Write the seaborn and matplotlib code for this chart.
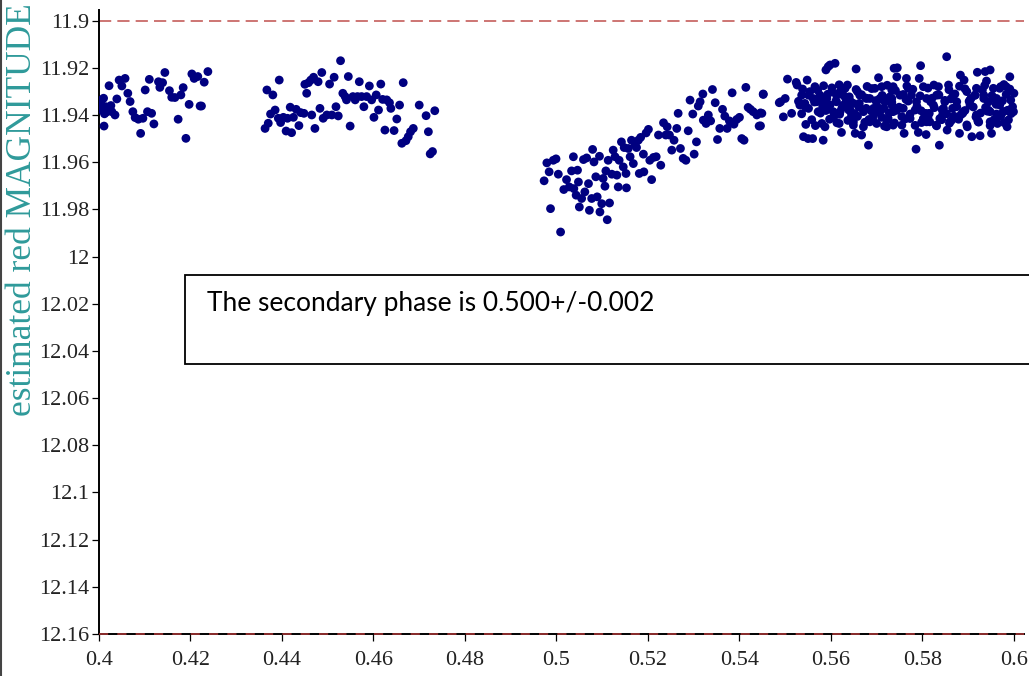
import matplotlib
matplotlib.use("Agg")
import matplotlib.pyplot as plt
import pandas as pd
import seaborn as sns
from matplotlib.patches import Rectangle
from matplotlib.lines import Line2D

# ---------------- data ----------------
pre_phase = [0.4000, 0.4002, 0.4006, 0.4010, 0.4011, 0.4015, 0.4018, 0.4022, 0.4028, 0.4035,
             0.4039, 0.4044, 0.4050, 0.4057, 0.4063, 0.4068, 0.4074, 0.4079, 0.4086, 0.4091,
             0.4096, 0.4101, 0.4106, 0.4110, 0.4115, 0.4120, 0.4130, 0.4133, 0.4139, 0.4144,
             0.4154, 0.4159, 0.4166, 0.4173, 0.4179, 0.4184, 0.4190, 0.4197, 0.4203, 0.4208,
             0.4216, 0.4221, 0.4224, 0.4230, 0.4238,
             0.4003, 0.4007, 0.4012, 0.4016, 0.4026]
pre_mag = [11.9358, 11.9372, 11.9336, 11.9329, 11.9447, 11.9365, 11.9379, 11.9276, 11.9386, 11.9400,
           11.9332, 11.9252, 11.9277, 11.9245, 11.9308, 11.9343, 11.9386, 11.9411, 11.9418, 11.9478,
           11.9414, 11.9294, 11.9386, 11.9249, 11.9393, 11.9438, 11.9259, 11.9283, 11.9263, 11.9220,
           11.9297, 11.9325, 11.9326, 11.9418, 11.9315, 11.9284, 11.9499, 11.9355, 11.9226, 11.9245,
           11.9237, 11.9362, 11.9362, 11.9261, 11.9216,
           11.9343, 11.9380, 11.9395, 11.9388, 11.9360]

mid_phase = [0.4363, 0.4367, 0.4370, 0.4375, 0.4380, 0.4385, 0.4394, 0.4392, 0.4397, 0.4403,
             0.4409, 0.4412, 0.4418, 0.4421, 0.4425, 0.4431, 0.4437, 0.4441, 0.4448, 0.4450,
             0.4454, 0.4458, 0.4463, 0.4465, 0.4469, 0.4472, 0.4479, 0.4483, 0.4487, 0.4490,
             0.4498, 0.4504, 0.4509, 0.4514, 0.4518, 0.4523, 0.4528, 0.4533, 0.4538, 0.4541,
             0.4545, 0.4549, 0.4555, 0.4560, 0.4565, 0.4569, 0.4574, 0.4579, 0.4585, 0.4591,
             0.4596, 0.4601, 0.4606, 0.4611, 0.4616, 0.4620, 0.4625, 0.4629, 0.4635, 0.4638,
             0.4645, 0.4651, 0.4657, 0.4662, 0.4665, 0.4671, 0.4676, 0.4681, 0.4687, 0.4700,
             0.4715, 0.4720, 0.4724, 0.4729, 0.4734]
mid_mag = [11.9457, 11.9294, 11.9435, 11.9396, 11.9315, 11.9379, 11.9252, 11.9414, 11.9432, 11.9410,
           11.9468, 11.9414, 11.9367, 11.9475, 11.9410, 11.9376, 11.9445, 11.9390, 11.9393, 11.9270,
           11.9308, 11.9263, 11.9252, 11.9400, 11.9240, 11.9457, 11.9259, 11.9372, 11.9220, 11.9414,
           11.9400, 11.9269, 11.9400, 11.9240, 11.9365, 11.9404, 11.9170, 11.9308, 11.9322, 11.9336,
           11.9237, 11.9447, 11.9322, 11.9336, 11.9322, 11.9259, 11.9322, 11.9365, 11.9322, 11.9277,
           11.9336, 11.9410, 11.9315, 11.9379, 11.9269, 11.9334, 11.9464, 11.9336, 11.9348, 11.9372,
           11.9466, 11.9417, 11.9358, 11.9520, 11.9263, 11.9509, 11.9492, 11.9471, 11.9457, 11.9358,
           11.9403, 11.9471, 11.9565, 11.9555, 11.9382]

ecl_phase = [0.4973, 0.4979, 0.4984, 0.4987, 0.4993, 0.4999, 0.5004, 0.5009, 0.5016, 0.5022,
             0.5028, 0.5033, 0.5037, 0.5038, 0.5043, 0.5046, 0.5048, 0.5050, 0.5055, 0.5059,
             0.5062, 0.5066, 0.5070, 0.5072, 0.5077, 0.5079, 0.5082, 0.5086, 0.5089, 0.5094,
             0.5095, 0.5099, 0.5102, 0.5106, 0.5108, 0.5111, 0.5113, 0.5116, 0.5121, 0.5124,
             0.5128, 0.5132, 0.5135, 0.5137, 0.5142, 0.5146, 0.5148, 0.5152, 0.5153, 0.5157,
             0.5161, 0.5164, 0.5168, 0.5172, 0.5175, 0.5179, 0.5181, 0.5184, 0.5190, 0.5191,
             0.5196, 0.5201, 0.5204, 0.5208, 0.5212, 0.5218, 0.5223, 0.5228, 0.5234, 0.5239,
             0.5242, 0.5247, 0.5252, 0.5257, 0.5263, 0.5266, 0.5271, 0.5277, 0.5283, 0.5288,
             0.5292, 0.5298, 0.5301, 0.5306, 0.5310, 0.5314, 0.5320, 0.5321, 0.5327, 0.5332,
             0.5337, 0.5341, 0.5347, 0.5352, 0.5357, 0.5363, 0.5368, 0.5373, 0.5378, 0.5384,
             0.5388, 0.5394, 0.5400, 0.5405, 0.5410, 0.5414, 0.5419, 0.5424, 0.5430, 0.5438,
             0.5443, 0.5446, 0.5452, 0.5487]
ecl_mag = [11.9679, 11.9603, 11.9641, 11.9797, 11.9592, 11.9586, 11.9651, 11.9896, 11.9716, 11.9674,
           11.9705, 11.9637, 11.9577, 11.9712, 11.9740, 11.9634, 11.9684, 11.9790, 11.9754, 11.9589,
           11.9726, 11.9582, 11.9691, 11.9804, 11.9754, 11.9546, 11.9599, 11.9662, 11.9747, 11.9575,
           11.9811, 11.9776, 11.9669, 11.9702, 11.9637, 11.9844, 11.9592, 11.9773, 11.9651, 11.9549,
           11.9577, 11.9655, 11.9705, 11.9592, 11.9514, 11.9620, 11.9538, 11.9648, 11.9709, 11.9542,
           11.9577, 11.9507, 11.9606, 11.9528, 11.9538, 11.9507, 11.9648, 11.9495, 11.9566, 11.9641,
           11.9476, 11.9461, 11.9592, 11.9674, 11.9580, 11.9577, 11.9485, 11.9613, 11.9433, 11.9485,
           11.9450, 11.9485, 11.9549, 11.9507, 11.9457, 11.9393, 11.9542, 11.9584, 11.9592, 11.9467,
           11.9337, 11.9396, 11.9566, 11.9514, 11.9362, 11.9344, 11.9311, 11.9422, 11.9436, 11.9400,
           11.9425, 11.9292, 11.9348, 11.9504, 11.9457, 11.9376, 11.9405, 11.9457, 11.9425, 11.9306,
           11.9439, 11.9419, 11.9410, 11.9500, 11.9507, 11.9283, 11.9368, 11.9376, 11.9386, 11.9400,
           11.9447, 11.9391, 11.9311, 11.9348]

post_phase = [0.5452, 0.5449, 0.5446, 0.5496, 0.5490, 0.5500, 0.5505, 0.5514, 0.5524, 0.5526,
              0.5536, 0.5540, 0.5545, 0.5548, 0.5550, 0.5554, 0.5560, 0.5565, 0.5569, 0.5572,
              0.5576, 0.5580, 0.5583, 0.5587, 0.5589, 0.5594, 0.5598, 0.5609, 0.5605, 0.5612,
              0.5618, 0.5623, 0.5627, 0.5631, 0.5636, 0.5640, 0.5645, 0.5649, 0.5653, 0.5655,
              0.5658, 0.5662, 0.5667, 0.5671, 0.5677, 0.5682, 0.5685, 0.5691, 0.5696, 0.5700,
              0.5704, 0.5707, 0.5711, 0.5716, 0.5722, 0.5729, 0.5733, 0.5736, 0.5738,
              0.5591, 0.5602, 0.5620, 0.5634, 0.5598, 0.5612, 0.5649, 0.5663, 0.5678, 0.5693,
              0.5707, 0.5718, 0.5733, 0.5583, 0.5561, 0.5551, 0.5620, 0.5642, 0.5671, 0.5685,
              0.5700, 0.5725, 0.5543, 0.5532,
              0.5853, 0.5796, 0.5745, 0.5744, 0.5736, 0.5733, 0.5740, 0.5736, 0.5755, 0.5760,
              0.5765, 0.5769, 0.5776, 0.5784, 0.5786, 0.5791, 0.5793, 0.5802, 0.5808, 0.5809,
              0.5815, 0.5824, 0.5830, 0.5835, 0.5837, 0.5844, 0.5849, 0.5854, 0.5857, 0.5864,
              0.5867, 0.5875, 0.5881, 0.5883, 0.5888, 0.5891, 0.5898, 0.5904, 0.5908, 0.5915,
              0.5920, 0.5922, 0.5926, 0.5934, 0.5937, 0.5940, 0.5944, 0.5948, 0.5951, 0.5955,
              0.5961, 0.5964, 0.5971, 0.5977, 0.5983, 0.5985, 0.5991, 0.5993, 0.5999, 0.6000,
              0.5751, 0.5758, 0.5773, 0.5787, 0.5802, 0.5816, 0.5831, 0.5846, 0.5860, 0.5875,
              0.5889, 0.5904, 0.5918, 0.5934, 0.5948, 0.5962, 0.5977, 0.5838, 0.5809, 0.5918,
              0.5897, 0.5948, 0.5969,
              0.5538, 0.5571, 0.5602, 0.5655, 0.5689, 0.5741, 0.5779, 0.5812, 0.5858, 0.5893,
              0.5931, 0.5969, 0.5991, 0.5551, 0.5593, 0.5628, 0.5667, 0.5712, 0.5758, 0.5795,
              0.5836, 0.5871, 0.5915, 0.5952, 0.5983, 0.5529, 0.5564, 0.5611, 0.5643, 0.5698,
              0.5733, 0.5769, 0.5818, 0.5849, 0.5902, 0.5944, 0.5975, 0.5545, 0.5582, 0.5624,
              0.5661, 0.5705, 0.5749, 0.5788, 0.5826, 0.5866, 0.5911, 0.5938, 0.5997, 0.5536,
              0.5577, 0.5619, 0.5652, 0.5694, 0.5727, 0.5773, 0.5807, 0.5853, 0.5884, 0.5927,
              0.5962, 0.5994, 0.5558, 0.5597, 0.5637, 0.5683, 0.5722, 0.5762, 0.5801, 0.5842,
              0.5879, 0.5921, 0.5957, 0.5988, 0.5566, 0.5649, 0.5717, 0.5784, 0.5831, 0.5897,
              0.5948,
              0.5584, 0.5618, 0.5679, 0.5723, 0.5766, 0.5825, 0.5881, 0.5936, 0.5978,
              0.5574, 0.5633, 0.5676, 0.5719, 0.5764, 0.5821, 0.5862, 0.5906, 0.5959,
              0.5589, 0.5639, 0.5688, 0.5744, 0.5797, 0.5843, 0.5893, 0.5942, 0.5986,
              0.5606, 0.5658, 0.5711, 0.5755, 0.5812, 0.5869, 0.5917, 0.5971,
              0.5613, 0.5674, 0.5739, 0.5798, 0.5859, 0.5923, 0.5979]
post_mag = [11.9313, 11.9393, 11.9446, 11.9408, 11.9344, 11.9330, 11.9248, 11.9393, 11.9262, 11.9273,
            11.9316, 11.9492, 11.9440, 11.9252, 11.9500, 11.9301, 11.9500, 11.9280, 11.9344, 11.9386,
            11.9316, 11.9436, 11.9507, 11.9450, 11.9209, 11.9195, 11.9188, 11.9181, 11.9386, 11.9344,
            11.9436, 11.9474, 11.9358, 11.9287, 11.9273, 11.9323, 11.9400, 11.9429, 11.9478, 11.9205,
            11.9301, 11.9351, 11.9485, 11.9450, 11.9372, 11.9528, 11.9330, 11.9415, 11.9287, 11.9436,
            11.9242, 11.9330, 11.9280, 11.9372, 11.9450, 11.9323, 11.9294, 11.9386, 11.9202,
            11.9330, 11.9301, 11.9301, 11.9351, 11.9358, 11.9316, 11.9351, 11.9316, 11.9330, 11.9372,
            11.9386, 11.9344, 11.9358, 11.9344, 11.9330, 11.9372, 11.9386, 11.9379, 11.9386, 11.9429,
            11.9344, 11.9415, 11.9351, 11.9358,
            11.9153, 11.9191, 11.9200, 11.9238, 11.9280, 11.9330, 11.9379, 11.9443, 11.9443, 11.9478,
            11.9245, 11.9287, 11.9316, 11.9379, 11.9545, 11.9474, 11.9245, 11.9280, 11.9483, 11.9330,
            11.9393, 11.9358, 11.9443, 11.9280, 11.9528, 11.9400, 11.9344, 11.9464, 11.9273, 11.9422,
            11.9316, 11.9365, 11.9478, 11.9231, 11.9393, 11.9252, 11.9450, 11.9337, 11.9492, 11.9316,
            11.9219, 11.9429, 11.9488, 11.9316, 11.9216, 11.9256, 11.9379, 11.9209, 11.9478, 11.9287,
            11.9355, 11.9436, 11.9280, 11.9386, 11.9280, 11.9450, 11.9238, 11.9337, 11.9386, 11.9308,
            11.9316, 11.9372, 11.9415, 11.9344, 11.9415, 11.9429, 11.9316, 11.9372, 11.9429, 11.9344,
            11.9386, 11.9358, 11.9400, 11.9330, 11.9386, 11.9330, 11.9386, 11.9415, 11.9429, 11.9287,
            11.9301, 11.9429, 11.9358,
            11.9290, 11.9295, 11.9285, 11.9292, 11.9288, 11.9296, 11.9291, 11.9286, 11.9293, 11.9289,
            11.9294, 11.9287, 11.9290, 11.9316, 11.9312, 11.9318, 11.9314, 11.9317, 11.9313, 11.9319,
            11.9315, 11.9311, 11.9316, 11.9318, 11.9313, 11.9342, 11.9345, 11.9340, 11.9343, 11.9339,
            11.9346, 11.9341, 11.9344, 11.9338, 11.9342, 11.9345, 11.9340, 11.9368, 11.9365, 11.9370,
            11.9366, 11.9371, 11.9367, 11.9364, 11.9369, 11.9372, 11.9366, 11.9368, 11.9365, 11.9395,
            11.9392, 11.9397, 11.9394, 11.9398, 11.9391, 11.9396, 11.9393, 11.9395, 11.9399, 11.9392,
            11.9396, 11.9394, 11.9420, 11.9418, 11.9423, 11.9419, 11.9421, 11.9417, 11.9422, 11.9420,
            11.9418, 11.9424, 11.9419, 11.9421, 11.9445, 11.9443, 11.9447, 11.9444, 11.9446, 11.9442,
            11.9445,
            11.9276, 11.9272, 11.9279, 11.9274, 11.9277, 11.9273, 11.9278, 11.9275, 11.9271,
            11.9330, 11.9333, 11.9328, 11.9331, 11.9334, 11.9329, 11.9332, 11.9330, 11.9333,
            11.9381, 11.9379, 11.9383, 11.9380, 11.9382, 11.9378, 11.9381, 11.9384, 11.9380,
            11.9408, 11.9406, 11.9410, 11.9407, 11.9409, 11.9405, 11.9408, 11.9406,
            11.9433, 11.9431, 11.9434, 11.9432, 11.9435, 11.9430, 11.9433]

x_ticks = [0.40, 0.42, 0.44, 0.46, 0.48, 0.50, 0.52, 0.54, 0.56, 0.58, 0.60]
x_tick_labels = ["0.4", "0.42", "0.44", "0.46", "0.48", "0.5", "0.52", "0.54", "0.56", "0.58", "0.6"]
y_ticks = [11.90, 11.92, 11.94, 11.96, 11.98, 12.00, 12.02, 12.04, 12.06, 12.08, 12.10, 12.12, 12.14, 12.16]
y_tick_labels = ["11.9", "11.92", "11.94", "11.96", "11.98", "12", "12.02", "12.04", "12.06",
                 "12.08", "12.1", "12.12", "12.14", "12.16"]
ref_lines = [11.90, 12.16]
y_label = "estimated red MAGNITUDE"
note = "The secondary phase is 0.500+/-0.002"

df = pd.DataFrame({
    "phase": pre_phase + mid_phase + ecl_phase + post_phase,
    "mag": pre_mag + mid_mag + ecl_mag + post_mag,
})

# ---------------- figure ----------------
sns.set_style("ticks")
plt.rcParams["font.family"] = ["Liberation Serif", "DejaVu Serif"]

W, H = 1029, 676
fig = plt.figure(figsize=(W / 100, H / 100), dpi=100)
fig.patch.set_facecolor("white")

ax = fig.add_axes([99 / W, (H - 634) / H, (1024 - 99) / W, (634 - 10) / H])
sns.scatterplot(data=df, x="phase", y="mag", ax=ax, color="#000080",
                s=40, edgecolor="none", linewidth=0, legend=False, zorder=3)

ax.set_xlim(0.4, 0.6022)
ax.set_ylim(12.16, 11.8955)
ax.set_xticks(x_ticks)
ax.set_xticklabels(x_tick_labels)
ax.set_yticks(y_ticks)
ax.set_yticklabels(y_tick_labels)
ax.set_xlabel("")
ax.set_ylabel("")

for side in ["top", "right"]:
    ax.spines[side].set_visible(False)
for side in ["left", "bottom"]:
    ax.spines[side].set_color("black")
    ax.spines[side].set_linewidth(1.4)

ax.tick_params(axis="both", direction="out", length=5, width=0.9, colors="black",
               labelsize=16, labelcolor="#222222")
ax.tick_params(axis="y", pad=2)
ax.tick_params(axis="x", pad=7)

ax.axhline(ref_lines[0], color="#c0504d", lw=1.1, dashes=(8, 4), zorder=2, clip_on=False)
ax.axhline(ref_lines[1], color="#b03a3a", lw=1.1, dashes=(6, 6), zorder=5, clip_on=False)

# annotation box
box = Rectangle((185 / W, (H - 364) / H), (1200 - 185) / W, (364 - 275) / H,
                transform=fig.transFigure, facecolor="white", edgecolor="black",
                lw=1.3, zorder=10)
fig.add_artist(box)
fig.text(207 / W, (H - 303) / H, note, family=["Lato", "DejaVu Sans"], fontsize=19,
         va="center", ha="left", color="black", zorder=11)

# y label
fig.text(23 / W, (H - 210) / H, y_label, rotation=90, color="#2f9a9a",
         fontsize=25.5, va="center", ha="center")

# left frame line
fig.add_artist(Line2D([1 / W, 1 / W], [0, 1], transform=fig.transFigure,
                      color="#444444", lw=1.5))

fig.savefig("out.png", dpi=100)
